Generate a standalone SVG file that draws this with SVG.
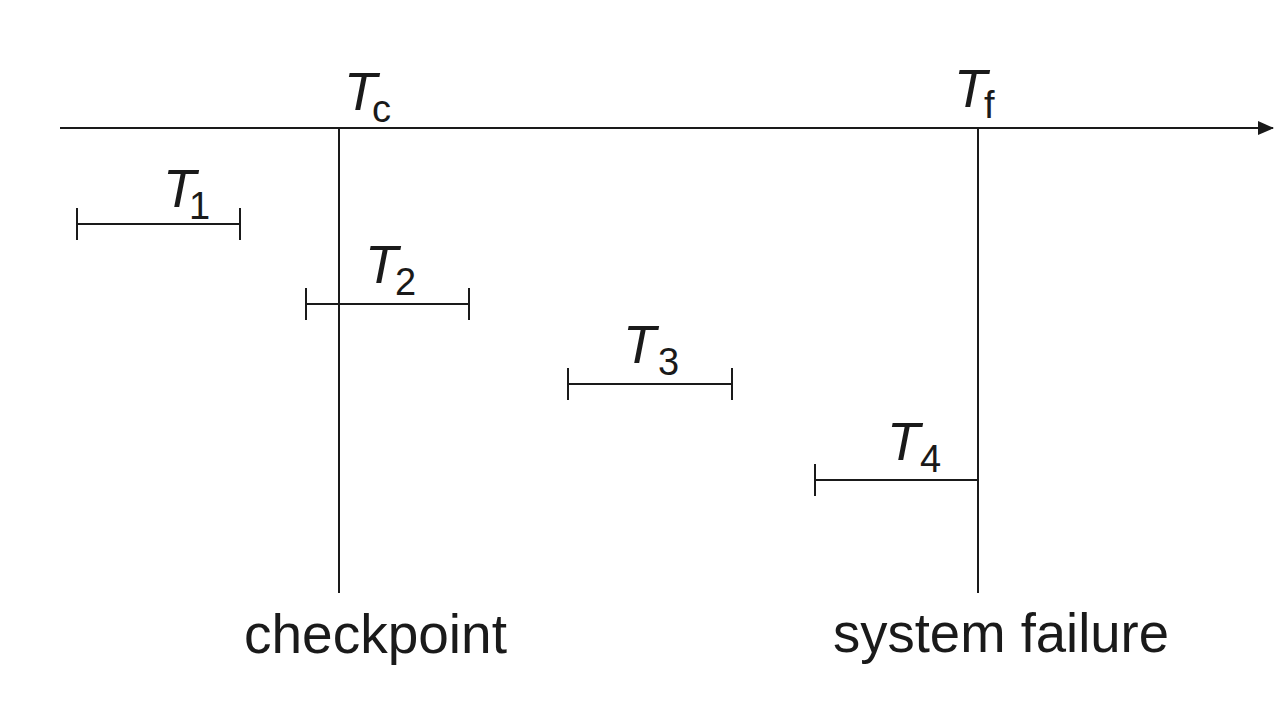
<svg xmlns="http://www.w3.org/2000/svg" width="1280" height="721" viewBox="0 0 1280 721">
<style>
.ln{stroke:#1a1a1a;stroke-width:2;fill:none}
.lbl{font-family:"Liberation Sans",Arial,sans-serif;fill:#1a1a1a}
.T{font-style:italic;font-size:54px}
.sub{font-style:normal;font-size:38px}
.cap{font-size:55px}
</style>
<defs>
<marker id="arr" markerWidth="16" markerHeight="14" refX="15" refY="7" orient="auto" markerUnits="userSpaceOnUse">
<path d="M0,0 L16,7 L0,14 Z" fill="#1a1a1a"/>
</marker>
</defs>
<rect width="1280" height="721" fill="#ffffff"/>
<g id="connectors">
<line id="time-axis" class="ln" x1="60" y1="128" x2="1273" y2="128" marker-end="url(#arr)"/>
<line id="checkpoint-line" class="ln" x1="339" y1="128" x2="339" y2="593"/>
<line id="failure-line" class="ln" x1="978" y1="128" x2="978" y2="593"/>
</g>
<g id="Tc"><text class="lbl T" x="344" y="110">T<tspan class="sub" font-style="italic" x="372" y="122">c</tspan></text></g>
<g id="Tf"><text class="lbl T" x="954" y="107">T<tspan class="sub" x="984" y="118">f</tspan></text></g>
<g id="T1">
<path class="ln" d="M77,224 H240 M77,208 V240 M240,208 V240"/>
<text class="lbl T" x="163" y="207">T<tspan class="sub" x="189" y="219">1</tspan></text>
</g>
<g id="T2">
<path class="ln" d="M306,304 H469 M306,288 V320 M469,288 V320"/>
<text class="lbl T" x="365" y="283">T<tspan class="sub" x="395" y="295">2</tspan></text>
</g>
<g id="T3">
<path class="ln" d="M568,384 H732 M568,368 V400 M732,368 V400"/>
<text class="lbl T" x="623" y="363">T<tspan class="sub" x="658" y="375">3</tspan></text>
</g>
<g id="T4">
<path class="ln" d="M815,480 H978 M815,464 V496"/>
<text class="lbl T" x="887" y="460">T<tspan class="sub" x="920" y="472">4</tspan></text>
</g>
<g id="checkpoint"><text class="lbl cap" x="244" y="653">checkpoint</text></g>
<g id="system-failure"><text class="lbl cap" x="833" y="652" textLength="336" lengthAdjust="spacingAndGlyphs">system failure</text></g>
</svg>
